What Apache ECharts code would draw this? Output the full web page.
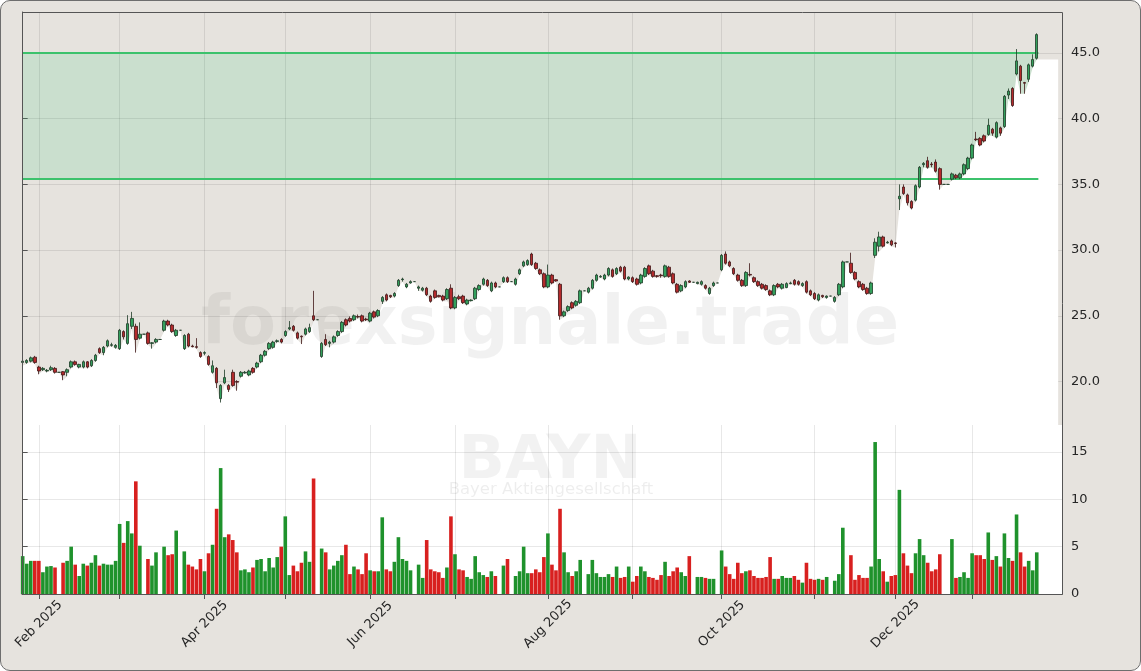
<!DOCTYPE html>
<html><head><meta charset="utf-8">
<script src="https://cdn.jsdelivr.net/npm/echarts@6/dist/echarts.min.js"></script>
<style>
html,body{margin:0;padding:0;background:#ffffff;}
#frame{position:absolute;left:0;top:0;width:1141px;height:671px;box-sizing:border-box;border:1px solid #6e6e6e;border-radius:10px;background:#e6e3de;}
#c{position:absolute;left:0;top:0;width:1141px;height:671px;}
</style></head><body><div id="frame"></div><div id="c"></div>
<script>
// ---- data (trading-day index 0 = 28 Jan 2025 ... 251 = 26 Jan 2026) ----
const opens = [21.45,21.45,21.55,21.85,
21.1,20.9,20.8,20.9,21.0,20.7,20.75,20.7,21.1,21.5,21.1,21.1,21.5,21.2,21.6,22.5,22.2,22.7,22.75,22.6,
22.5,23.8,22.9,24.2,24.2,23.3,23.6,23.7,22.9,23.0,23.2,23.9,24.6,24.3,23.5,23.9,22.5,23.6,22.7,22.65,22.2,
22.15,21.9,20.7,21.0,18.7,19.9,19.7,20.7,20.0,20.4,20.65,20.5,21.0,21.1,21.5,22.0,22.5,22.6,23.05,23.2,
23.5,24.0,24.2,23.7,23.45,23.6,23.8,25.0,24.7,21.9,23.2,22.9,23.0,23.5,23.8,24.7,24.8,24.7,24.95,25.0,24.75,
24.6,25.3,25.0,26.1,26.6,26.55,26.5,27.3,27.75,27.2,27.5,27.6,27.1,26.95,27.1,26.5,26.9,26.55,26.5,26.3,27.1,
25.6,26.45,26.5,25.9,26.15,26.3,27.0,27.4,27.7,26.9,27.5,27.2,27.6,27.9,27.6,27.4,28.2,28.8,28.9,29.7,29.0,28.5,28.2,
27.2,28.1,27.75,27.4,25.0,25.4,26.0,25.8,26.0,26.9,26.8,27.1,27.7,27.95,27.8,28.1,28.5,28.2,28.7,28.7,27.8,
27.9,27.8,27.5,28.0,28.8,28.4,28.05,28.1,28.0,28.7,28.2,27.4,26.9,27.2,27.65,27.55,27.45,27.4,27.3,26.7,27.3,27.5,
28.5,29.7,29.1,28.6,28.1,27.7,27.3,28.15,27.9,27.6,27.4,27.3,26.9,26.6,27.4,27.1,27.15,27.45,27.7,27.6,27.3,27.6,26.9,
26.7,26.2,26.55,26.4,26.5,26.1,26.6,27.2,29.1,29.0,28.3,27.6,27.4,27.1,26.7,29.6,30.3,31.0,30.55,30.7,
30.55,33.9,34.8,34.2,33.7,33.8,34.8,36.5,36.8,36.55,36.7,36.2,35.0,35.0,35.4,35.7,35.5,35.8,36.2,
37.0,38.45,38.5,38.7,38.8,39.2,38.6,39.3,39.4,41.8,42.3,43.4,44.0,42.75,43.0,44.0,44.6];
const closes = [21.55,21.6,21.8,21.45,
20.8,21.0,20.85,21.05,20.7,20.7,20.5,20.9,21.5,21.3,21.3,21.5,21.1,21.6,22.0,22.2,22.6,23.1,22.8,22.75,
23.9,23.4,24.4,24.8,23.2,23.6,23.6,22.9,22.95,23.2,23.2,24.6,24.3,23.8,23.9,23.9,23.5,22.7,22.65,22.6,21.9,
22.2,21.3,21.2,19.9,19.7,20.3,19.4,19.7,19.95,20.7,20.7,20.8,20.7,21.4,22.0,22.3,22.9,23.0,23.1,23.0,
23.8,24.1,23.9,23.3,23.4,24.0,24.1,24.7,24.7,22.9,22.8,23.0,23.4,23.8,24.5,24.3,24.6,25.0,24.9,24.6,24.7,
25.2,24.9,25.4,26.4,26.2,26.45,26.7,27.7,27.8,27.4,27.6,27.6,27.2,27.1,26.6,26.1,26.4,26.45,26.2,27.0,25.6,
26.4,26.3,26.0,26.2,26.2,27.1,27.3,27.8,27.3,27.5,27.2,27.2,27.9,27.6,27.6,27.8,28.5,29.1,29.2,28.9,28.6,28.2,27.2,
28.1,27.5,27.65,25.0,25.3,25.7,25.6,26.1,26.9,26.9,27.1,27.7,28.1,28.0,28.1,28.6,28.0,28.6,28.4,27.8,27.95,
27.6,27.4,28.1,28.6,28.2,28.0,28.0,28.05,28.8,28.0,27.5,26.8,27.3,27.6,27.55,27.55,27.55,27.6,27.1,27.1,27.5,27.5,
29.6,29.0,28.8,28.2,27.7,27.3,28.3,28.1,27.6,27.3,27.1,27.0,26.6,27.3,27.2,27.4,27.45,27.5,27.4,27.4,27.45,26.8,26.6,
26.3,26.6,26.45,26.5,26.5,26.4,27.4,29.1,29.1,28.3,27.8,27.2,27.0,26.7,27.5,30.6,31.0,30.3,30.6,30.4,
30.5,34.1,34.3,33.6,33.2,34.9,36.3,36.6,36.3,36.5,36.0,35.0,35.0,35.0,35.8,35.5,35.8,36.5,37.0,
38.0,38.4,38.0,38.3,39.5,38.9,39.7,38.9,41.7,42.1,41.0,44.4,42.9,42.7,44.1,44.5,46.4];
const highs = [21.8,21.7,21.9,21.95,
21.2,21.1,20.95,21.2,21.1,20.7,20.8,21.0,21.6,21.6,21.35,21.6,21.55,21.7,22.1,22.6,22.7,23.2,22.95,22.85,
24.0,23.9,25.05,25.3,24.4,24.5,23.6,23.8,23.0,23.3,23.2,24.7,24.7,24.4,24.0,23.9,23.6,23.7,22.8,23.3,22.3,
22.3,22.0,21.6,21.1,19.8,20.9,19.8,20.9,20.1,20.8,20.8,20.9,21.1,21.5,22.1,22.4,23.0,23.1,23.2,23.3,
23.9,24.6,24.3,23.8,23.5,24.1,24.4,26.9,24.7,23.0,23.6,23.1,23.5,23.9,24.6,24.8,24.95,25.1,25.1,25.1,24.85,
25.3,25.4,25.5,26.5,26.7,26.6,26.8,27.8,27.9,27.5,27.7,27.6,27.3,27.2,27.2,26.6,27.0,26.6,26.6,27.1,27.4,
26.5,26.6,26.6,26.3,26.25,27.2,27.4,27.9,27.8,27.6,27.6,27.2,28.0,28.0,27.6,27.9,28.6,29.2,29.3,29.8,29.1,28.6,28.3,
28.9,28.2,27.8,27.5,25.4,25.8,26.1,26.2,27.0,26.9,27.2,27.8,28.2,28.1,28.2,28.7,28.6,28.7,28.8,28.8,28.0,
28.0,27.9,28.2,28.7,28.9,28.5,28.1,28.2,28.9,28.8,28.3,27.5,27.4,27.7,27.7,27.55,27.6,27.7,27.4,27.2,27.6,27.5,
29.7,29.9,29.2,28.7,28.2,27.8,28.4,29.0,28.0,27.7,27.5,27.4,27.0,27.4,27.5,27.5,27.55,27.6,27.8,27.7,27.55,27.7,27.0,
26.8,26.7,26.6,26.55,26.5,26.5,27.5,29.2,29.1,29.8,28.4,27.7,27.5,27.2,27.6,30.9,31.4,31.1,30.7,30.8,
30.6,35.0,35.0,34.3,33.8,35.0,36.4,36.7,37.1,36.7,36.9,36.3,35.0,35.0,35.9,35.8,35.9,36.6,37.1,
38.1,39.0,38.6,38.8,40.0,39.3,39.8,39.4,41.8,42.3,42.4,45.3,44.1,42.8,44.2,44.9,46.5];
const lows = [21.2,21.35,21.45,21.35,
20.55,20.8,20.7,20.8,20.6,20.7,20.1,20.4,21.0,21.2,21.0,21.0,21.0,21.1,21.5,22.1,22.0,22.6,22.65,22.5,
22.4,23.2,22.8,24.0,22.2,23.2,23.6,22.8,22.5,22.9,23.2,23.8,24.2,23.7,23.4,23.9,22.4,22.6,22.6,22.5,21.8,
22.0,21.2,20.6,19.5,18.4,19.8,19.2,19.6,19.3,20.3,20.6,20.4,20.6,21.0,21.4,21.9,22.4,22.5,22.95,22.9,
23.4,23.9,23.8,23.2,22.85,23.5,23.7,24.6,24.7,21.8,22.7,22.6,22.9,23.4,23.7,24.2,24.5,24.6,24.8,24.5,24.6,
24.5,24.8,24.9,25.9,26.1,26.35,26.4,27.2,27.6,27.1,27.45,27.6,26.9,26.85,26.5,26.0,26.3,26.4,26.1,26.2,25.5,
25.5,26.2,25.9,25.8,26.1,26.2,26.9,27.3,27.2,26.8,27.1,27.2,27.5,27.5,27.6,27.3,28.1,28.7,28.8,28.8,28.5,28.1,27.1,
27.1,27.4,27.6,24.7,24.9,25.3,25.5,25.7,25.9,26.9,26.7,27.0,27.6,27.9,27.7,28.0,27.9,28.1,28.3,27.7,27.7,
27.5,27.3,27.4,27.9,28.1,27.9,27.9,27.9,27.9,27.9,27.4,26.7,26.8,27.1,27.5,27.55,27.4,27.3,27.0,26.6,27.2,27.5,
28.4,28.9,28.7,28.1,27.6,27.2,27.2,28.0,27.5,27.2,27.0,26.9,26.5,26.5,27.1,27.0,27.1,27.4,27.3,27.3,27.2,26.7,26.5,
26.2,26.1,26.35,26.3,26.5,26.0,26.5,27.1,29.1,28.2,27.7,27.1,26.9,26.6,26.6,29.4,29.9,30.2,30.5,30.3,
30.2,33.05,34.2,33.4,33.1,33.7,34.7,36.3,36.2,36.3,35.9,34.6,35.0,35.0,35.3,35.4,35.4,35.7,36.1,
36.9,38.3,37.9,38.2,38.7,38.7,38.5,38.7,39.3,41.5,40.9,43.3,41.9,41.9,42.8,43.9,44.5];
const volumes = [4.0,3.2,3.5,3.5,
3.5,2.3,2.9,2.95,2.8,0,3.3,3.5,5.0,3.1,1.9,3.2,3.0,3.3,4.1,3.0,3.2,3.1,3.1,3.5,
7.4,5.4,7.7,6.4,11.9,5.1,0,3.7,3.0,4.4,0,5.0,4.1,4.2,6.7,0,4.5,3.1,2.9,2.6,3.7,
2.4,4.3,5.2,9.0,13.3,6.0,6.3,5.7,4.4,2.5,2.6,2.3,2.8,3.6,3.7,2.4,3.8,2.8,3.9,5.0,
8.2,2.0,3.0,2.4,3.3,4.5,3.4,12.2,0,4.8,4.4,2.6,3.0,3.5,4.1,5.2,2.1,2.9,2.6,2.1,4.3,
2.5,2.4,2.4,8.1,2.6,2.4,3.4,6.0,3.7,3.5,2.5,0,3.1,1.7,5.7,2.6,2.4,2.3,1.7,2.8,8.2,
4.2,2.6,2.5,1.8,1.6,4.0,2.3,2.0,1.8,2.4,1.9,0,3.0,3.7,0,1.9,2.4,5.0,2.2,2.2,2.6,2.3,3.9,
6.4,3.1,2.5,9.0,4.4,2.3,1.9,2.4,3.6,0,2.1,3.6,2.2,1.8,1.8,2.1,1.8,2.9,1.7,1.8,2.9,
1.3,1.9,2.9,2.4,1.8,1.7,1.5,2.0,3.4,1.9,2.4,2.8,2.3,1.9,4.0,0,1.8,1.8,1.7,1.6,1.6,0,
4.6,2.9,2.1,1.6,3.3,2.2,2.4,2.5,1.9,1.7,1.7,1.8,3.9,1.6,1.6,1.9,1.7,1.7,1.9,1.5,1.2,3.3,1.6,
1.5,1.6,1.5,1.8,0,1.4,2.1,7.0,0,4.1,1.5,2.0,1.7,1.7,2.9,16.05,3.7,2.4,1.3,1.9,
2.0,11.0,4.3,3.0,2.2,4.3,5.8,4.1,3.3,2.4,2.6,4.2,0,0,5.8,1.7,1.8,2.3,1.7,
4.3,4.1,4.1,3.7,6.5,3.6,4.0,2.9,6.4,3.8,3.5,8.4,4.4,2.9,3.5,2.5,4.4];
// first trading day of each month (index) and the labelled ones
const monthTickIdx = [4,24,45,65,86,107,130,151,173,196,216,235];
const monthLabelIdx = [4,45,86,130,173,216];
const monthLabels = ['Feb 2025','Apr 2025','Jun 2025','Aug 2025','Oct 2025','Dec 2025'];
const priceTicks = [20,25,30,35,40,45];
const volumeTicks = [0,5,10,15];
const zoneLow = 35.4, zoneHigh = 45.0;
const ticker = 'BAYN', company = 'Bayer Aktiengesellschaft', watermark = 'forexsignale.trade';

// ---- layout / style ----
const X_MIN = -0.17, X_MAX = 257.25, FILL_END = 256.3, ZONE_END = 251.4;
const P_MIN = 16.69, P_MAX = 48.12, V_MAX = 17.85;
const BG = '#e6e3de', GRID = 'rgba(0,0,0,0.09)', SPINE = '#555555', TXT = '#262626';
const FONT = 'DejaVu Sans';

const candleData = opens.map((o, i) => [i, o, closes[i], lows[i], highs[i]]);
const fillData = lows.map((l, i) => [i, l]).concat([[FILL_END, lows[lows.length - 1]]]);
const volData = volumes.map((v, i) => ({
  value: [i, v],
  itemStyle: { color: closes[i] >= opens[i] ? '#1f922c' : '#d8201f' }
}));
const labelMap = {};
monthLabelIdx.forEach((v, k) => labelMap[v] = monthLabels[k]);

const chart = echarts.init(document.getElementById('c'), null, { renderer: 'canvas' });
chart.setOption({
  backgroundColor: 'transparent',
  animation: false,
  grid: [
    { left: 22, top: 12, width: 1040, height: 413, show: true, backgroundColor: BG, borderWidth: 0 },
    { left: 22, top: 425, width: 1040, height: 169, show: true, backgroundColor: '#ffffff', borderWidth: 0 }
  ],
  xAxis: [
    { type: 'value', gridIndex: 0, min: X_MIN, max: X_MAX,
      axisLine: { show: false }, axisTick: { show: false, customValues: monthTickIdx },
      axisLabel: { show: false }, splitLine: { show: true, lineStyle: { color: GRID, width: 1 } } },
    { type: 'value', gridIndex: 1, min: X_MIN, max: X_MAX,
      axisLine: { show: true, onZero: false, lineStyle: { color: SPINE, width: 1 } },
      axisTick: { show: true, length: 5, customValues: monthTickIdx, lineStyle: { color: SPINE } },
      axisLabel: { customValues: monthLabelIdx, rotate: 45, align: 'center', verticalAlign: 'middle',
        fontSize: 13, fontFamily: FONT, color: TXT, margin: 30,
        formatter: v => labelMap[v] || '' },
      splitLine: { show: true, lineStyle: { color: GRID, width: 1 } } }
  ],
  yAxis: [
    { type: 'value', gridIndex: 0, position: 'right', min: P_MIN, max: P_MAX, scale: true,
      axisLine: { show: true, lineStyle: { color: SPINE, width: 1 } },
      axisTick: { show: true, length: 5, customValues: priceTicks, lineStyle: { color: SPINE } },
      axisLabel: { customValues: priceTicks, formatter: v => v.toFixed(1), fontSize: 13, fontFamily: FONT, color: TXT, margin: 9 },
      splitLine: { show: true, lineStyle: { color: GRID, width: 1 } } },
    { type: 'value', gridIndex: 1, position: 'right', min: 0, max: V_MAX,
      axisLine: { show: true, lineStyle: { color: SPINE, width: 1 } },
      axisTick: { show: true, length: 5, customValues: volumeTicks, lineStyle: { color: SPINE } },
      axisLabel: { customValues: volumeTicks, formatter: v => String(v), fontSize: 13, fontFamily: FONT, color: TXT, margin: 9 },
      splitLine: { show: true, lineStyle: { color: GRID, width: 1 } } }
  ],
  graphic: [
    { type: 'rect', silent: true, z: 100, shape: { x: 22.5, y: 12.5, width: 1040, height: 582 },
      style: { fill: null, stroke: SPINE, lineWidth: 1 } },
    { type: 'text', silent: true, z: 5, style: { x: 550, y: 327, text: watermark, textAlign: 'center', textVerticalAlign: 'middle',
      font: 'bold 67px "DejaVu Sans"', fill: 'rgba(0,0,0,0.055)' } },
    { type: 'text', silent: true, z: 5, style: { x: 550, y: 462, text: ticker, textAlign: 'center', textVerticalAlign: 'middle',
      font: 'bold 61px "DejaVu Sans"', fill: 'rgba(0,0,0,0.05)' } },
    { type: 'text', silent: true, z: 5, style: { x: 551, y: 490, text: company, textAlign: 'center', textVerticalAlign: 'middle',
      font: '16.5px "DejaVu Sans"', fill: 'rgba(0,0,0,0.07)' } }
  ],
  series: [
    { name: 'fill', type: 'line', xAxisIndex: 0, yAxisIndex: 0, data: fillData, silent: true,
      showSymbol: false, symbol: 'none', lineStyle: { width: 0 }, z: 1,
      areaStyle: { color: '#ffffff', opacity: 1, origin: 'start' } },
    { name: 'zone', type: 'line', xAxisIndex: 0, yAxisIndex: 0, data: [], silent: true, z: 3,
      markArea: { silent: true, itemStyle: { color: 'rgba(46,204,113,0.15)' },
        data: [[{ coord: [X_MIN, zoneLow] }, { coord: [ZONE_END, zoneHigh] }]] },
      markLine: { silent: true, symbol: ['none', 'none'], label: { show: false },
        lineStyle: { color: '#3cc26c', width: 2, type: 'solid' },
        data: [[{ coord: [X_MIN, zoneLow] }, { coord: [ZONE_END, zoneLow] }],
               [{ coord: [X_MIN, zoneHigh] }, { coord: [ZONE_END, zoneHigh] }]] } },
    { name: 'price', type: 'candlestick', xAxisIndex: 0, yAxisIndex: 0, data: candleData, z: 10,
      barWidth: 3,
      itemStyle: { color: '#33a05c', color0: '#b42a2c', borderColor: '#1e3b27', borderColor0: '#3f1616', borderWidth: 0.8 } },
    { name: 'volume', type: 'bar', xAxisIndex: 1, yAxisIndex: 1, data: volData, barWidth: 3.6, z: 10 }
  ]
});
</script>
</body></html>
